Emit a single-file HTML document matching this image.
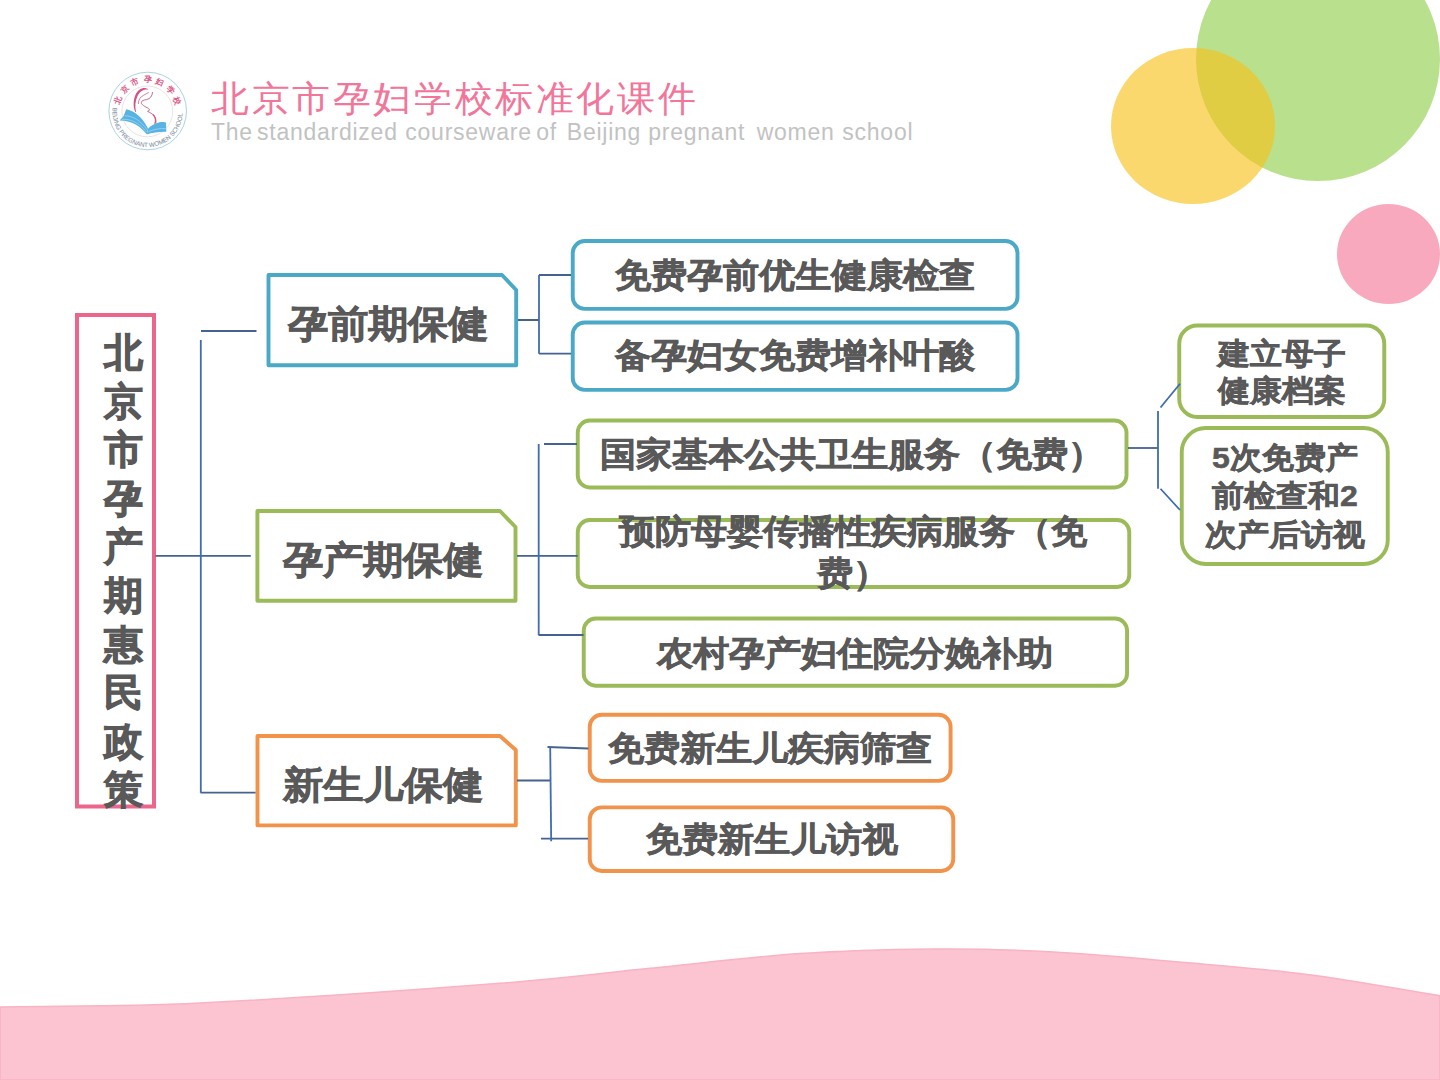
<!DOCTYPE html>
<html><head><meta charset="utf-8">
<style>
html,body{margin:0;padding:0;}
body{width:1440px;height:1080px;overflow:hidden;background:#fff;position:relative;font-family:"Liberation Sans",sans-serif;}
svg.bg{position:absolute;left:0;top:0;}
.t{transform:scaleY(0.94);transform-origin:50% 50%;position:absolute;color:#595959;font-weight:bold;white-space:nowrap;line-height:1;text-align:center;-webkit-text-stroke:0.6px #595959;}
</style></head><body>
<svg class="bg" width="1440" height="1080" viewBox="0 0 1440 1080">
  <!-- decorative circles -->
  <circle cx="1318" cy="59" r="122" fill="#B9E08D"/>
  <ellipse cx="1193" cy="126" rx="82" ry="78" fill="#F9C21A" fill-opacity="0.63"/>
  <ellipse cx="1388.5" cy="254" rx="51.5" ry="50" fill="#F9A9BD"/>
  <!-- bottom wave -->
  <path d="M0,1007 C66.7,1005.7 116.7,1007.0 200,1003 C283.3,999.0 425.0,989.1 500,983.3 C575.0,977.5 600.0,973.2 650,968.3 C700.0,963.3 752.8,956.8 800,953.6 C847.2,950.4 893.0,949.4 933,949 C973.0,948.6 1002.8,949.5 1040,951.3 C1077.2,953.1 1111.5,956.1 1156,960 C1200.5,963.9 1259.7,968.4 1307,974.4 C1354.3,980.4 1395.7,988.7 1440,995.8 L1440,1080 L0,1080 Z" fill="#FCC3D0" stroke="#F9B3C4" stroke-width="1.5"/>
  <!-- logo -->
  <g>
    <defs>
      <path id="arcBot" d="M112.9,107.5 A35,35 0 1 0 182.3,107.5"/>
    </defs>
    <circle cx="147.7" cy="111" r="38.8" fill="#fff" stroke="#9ECDDF" stroke-width="0.9"/>
    <circle cx="147.3" cy="111.4" r="25.4" fill="none" stroke="#DCCFD4" stroke-width="0.6"/>
    <g font-family="Liberation Sans, sans-serif" font-size="8" font-weight="bold" fill="#DB5A88"><text x="0" y="0" transform="translate(118.09,100.49) rotate(-70.0)" text-anchor="middle" dominant-baseline="central">北</text><text x="0" y="0" transform="translate(124.73,89.72) rotate(-46.7)" text-anchor="middle" dominant-baseline="central">京</text><text x="0" y="0" transform="translate(135.10,82.46) rotate(-23.3)" text-anchor="middle" dominant-baseline="central">市</text><text x="0" y="0" transform="translate(147.50,79.90) rotate(0.0)" text-anchor="middle" dominant-baseline="central">孕</text><text x="0" y="0" transform="translate(159.90,82.46) rotate(23.3)" text-anchor="middle" dominant-baseline="central">妇</text><text x="0" y="0" transform="translate(170.27,89.72) rotate(46.7)" text-anchor="middle" dominant-baseline="central">学</text><text x="0" y="0" transform="translate(176.91,100.49) rotate(70.0)" text-anchor="middle" dominant-baseline="central">校</text></g>
    <text font-family="Liberation Sans, sans-serif" font-size="6.3" fill="#738393"><textPath href="#arcBot" textLength="113" lengthAdjust="spacingAndGlyphs">BEIJING PREGNANT WOMEN SCHOOL</textPath></text>
    <path d="M148.6,89.6 C144.5,86.2 138.2,88.6 135.5,94.8 C133,100.8 133.2,107 135.3,112 L136,111.8 C134.8,106.6 135.2,100.8 137.6,95.8 C140,91 144,88.6 148.6,89.6 Z" fill="#D65286"/>
    <path d="M148.8,92.5 C145,94.5 141.2,96 139.6,98.8 C138.6,100.8 138.3,102.5 138.4,104" fill="none" stroke="#C2608A" stroke-width="0.8"/>
    <path d="M152.5,92 C152.4,96 150.2,98.8 146.6,99.6 C143.6,100.1 141.5,100.6 141.3,102.6 C141.2,104.6 145,106.6 148.4,108.3 C150.1,109.3 149.5,110.9 147.6,111.3 C149.2,112.1 152.1,113.6 154,115.6 C155.8,117.6 155.7,121 154.6,123.8" fill="none" stroke="#B5607F" stroke-width="0.9"/>
    <path d="M152.8,114.5 C155,116.5 156.5,119.5 155.5,123.5" fill="none" stroke="#D65286" stroke-width="1.3"/>
    <path d="M126.2,109.2 C134,111 142,116 148,128.5 L146.8,134.3 C141,127 133,120.5 119.6,120.4 C121.5,118.5 123.2,117 123.8,115.5 Z" fill="#58B3E3"/>
    <path d="M121.8,119.3 C132,118.8 140,124 146.3,131.8 M124.6,115.8 C133,115.6 141,121 146.9,129.6" fill="none" stroke="#A4DDF6" stroke-width="0.7"/>
    <path d="M148.2,128.5 C151,125.5 155.5,122.8 160.8,122 C163,121.8 165,122 166,122.6 L166.3,131.7 C160,131.5 152,132.5 146.8,134.5 Z" fill="#58B3E3"/>
    <path d="M148.6,131.6 C154,129.2 160,128.2 166.2,128.6" fill="none" stroke="#A4DDF6" stroke-width="0.7"/>
  </g>
  <!-- main pink box -->
  <rect x="77" y="315" width="77" height="491.5" fill="none" stroke="#EB668A" stroke-width="4"/>
  <!-- category boxes (snip corner) -->
  <path d="M268.5,275 L502,275 L516.2,290 L516.2,365.2 L268.5,365.2 Z" fill="none" stroke="#4BA9C8" stroke-width="3.9" stroke-linejoin="round"/>
  <path d="M257.4,511 L500,511 L515.5,527 L515.5,600.7 L257.4,600.7 Z" fill="none" stroke="#9BBB59" stroke-width="3.9" stroke-linejoin="round"/>
  <path d="M257.5,736 L500,736 L515.8,750 L515.8,825.4 L257.5,825.4 Z" fill="none" stroke="#F2934B" stroke-width="3.9" stroke-linejoin="round"/>
  <!-- item boxes -->
  <rect x="572.75" y="241" width="444.75" height="67.9" rx="12" fill="none" stroke="#4BA9C8" stroke-width="3.9"/>
  <rect x="572.75" y="322.5" width="444.75" height="67.4" rx="12" fill="none" stroke="#4BA9C8" stroke-width="3.9"/>
  <rect x="577.75" y="420.5" width="548.75" height="67" rx="12" fill="none" stroke="#9BBB59" stroke-width="3.9"/>
  <rect x="577.75" y="520" width="551.5" height="67" rx="12" fill="none" stroke="#9BBB59" stroke-width="3.9"/>
  <rect x="583.75" y="618.5" width="543.3" height="67.2" rx="12" fill="none" stroke="#9BBB59" stroke-width="3.9"/>
  <rect x="1179.25" y="325.5" width="205" height="91.5" rx="18" fill="none" stroke="#9BBB59" stroke-width="3.9"/>
  <rect x="1181.75" y="428" width="206" height="136" rx="24" fill="none" stroke="#9BBB59" stroke-width="3.9"/>
  <rect x="589.75" y="714.75" width="360.85" height="66.1" rx="12" fill="none" stroke="#F2934B" stroke-width="3.9"/>
  <rect x="589.75" y="807.35" width="363.5" height="63.65" rx="12" fill="none" stroke="#F2934B" stroke-width="3.9"/>
  <!-- connectors -->
  <g fill="none" stroke="#46638F" stroke-width="1.8">
    <path d="M201,331 H256.5"/>
    <path d="M200.5,792.7 H255.6"/>
    <path d="M155.5,555.8 H250.8"/>
    <path d="M518,320 H539 M571,275 H539 M539,353.7 H571"/>
    <path d="M517,555.8 H577.7 M538.5,635 H583.6 M544,444 H577"/>
    <path d="M1128,448 H1158"/>
    <path d="M517,780.5 H550 M547.5,747 L588.4,748.5 M541,838.6 H588"/>
  </g>
  <g fill="none" stroke="#3F6CB2" stroke-width="1.8">
    <path d="M200.8,340 V792.7"/>
    <path d="M539,275 V353.7"/>
    <path d="M538.7,444 V635"/>
    <path d="M1158,411 V488.75 M1160.5,407.5 L1180,383.75 M1160.5,488.75 L1180,510"/>
    <path d="M550.2,747 L551.2,841.2"/>
  </g>
</svg>
<!-- header -->
<div style="position:absolute;left:211px;top:80.5px;font-size:38px;letter-spacing:2.6px;color:#F1769A;white-space:nowrap;line-height:1;transform:scaleY(0.95);transform-origin:0 0;">北京市孕妇学校标准化课件</div>
<div style="position:absolute;left:0;top:121px;width:1000px;height:30px;font-size:23px;letter-spacing:0.75px;color:#C2C2C2;white-space:nowrap;line-height:1;"><span style="position:absolute;left:211px;top:0">The</span><span style="position:absolute;left:257px;top:0">standardized</span><span style="position:absolute;left:405.3px;top:0">courseware</span><span style="position:absolute;left:536.2px;top:0">of</span><span style="position:absolute;left:566.8px;top:0">Beijing</span><span style="position:absolute;left:648.3px;top:0">pregnant</span><span style="position:absolute;left:756.7px;top:0">women</span><span style="position:absolute;left:842.3px;top:0">school</span></div>

<!-- vertical title -->
<div class="t" style="left:85px;top:329px;width:77px;font-size:39px;line-height:48.6px;white-space:normal;-webkit-text-stroke:1px #595959;transform:none;">北<br>京<br>市<br>孕<br>产<br>期<br>惠<br>民<br>政<br>策</div>

<div class="t" style="left:268px;top:303.5px;width:240px;font-size:40px;">孕前期保健</div>
<div class="t" style="left:257px;top:539.5px;width:252px;font-size:40px;">孕产期保健</div>
<div class="t" style="left:257px;top:764.5px;width:252px;font-size:40px;">新生儿保健</div>

<div class="t" style="left:571px;top:258px;width:448px;font-size:36px;">免费孕前优生健康检查</div>
<div class="t" style="left:571px;top:338px;width:448px;font-size:36px;">备孕妇女免费增补叶酸</div>
<div class="t" style="left:576px;top:437px;width:552px;font-size:36px;">国家基本公共卫生服务（免费）</div>
<div class="t" style="left:576px;top:507.5px;width:554px;font-size:36px;line-height:44.5px;white-space:normal;">预防母婴传播性疾病服务（免<br>费）</div>
<div class="t" style="left:582px;top:636px;width:546px;font-size:36px;">农村孕产妇住院分娩补助</div>
<div class="t" style="left:1177px;top:332px;width:209px;font-size:32px;line-height:40px;white-space:normal;">建立母子<br>健康档案</div>
<div class="t" style="left:1180px;top:435px;width:210px;font-size:32px;line-height:41px;white-space:normal;">5次免费产<br>前检查和2<br>次产后访视</div>
<div class="t" style="left:588px;top:730.5px;width:364px;font-size:36px;">免费新生儿疾病筛查</div>
<div class="t" style="left:588px;top:821.5px;width:367px;font-size:36px;">免费新生儿访视</div>
</body></html>
